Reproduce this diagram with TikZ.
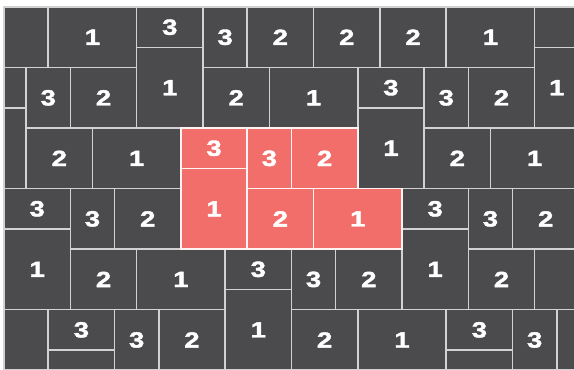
\documentclass[tikz,border=0pt]{standalone}
\usepackage{fontspec}
\usepackage{xcolor}
\usepackage{tikz}
\newfontfamily\tileFont{Liberation Sans}[UprightFont=* Bold,FakeBold=1.8,FakeStretch=1.25]
\definecolor{tlDark}{HTML}{4B4B4E}
\definecolor{tlRed}{HTML}{F26E6B}
\definecolor{tlLine}{HTML}{D2D2D2}
\tikzset{
  % Dark tile, placed by its top left corner
  dtile/.style={rectangle,anchor=north west,
    inner sep=0pt,outer sep=0pt,
    fill=tlDark,draw=tlLine,line width=1.5pt,
    font=\tileFont\fontsize{22}{22}\selectfont,text=white},
  % Red tile (highlighted group)
  rtile/.style={dtile,fill=tlRed,draw=white!92!tlRed},
  % Size in grid cells (width, height)
  cells/.style 2 args={minimum width=#1*22.11pt,minimum height=#2*20.18pt},
}

\begin{document}
\begin{tikzpicture}[x=22.11pt,y=-20.18pt]
  \useasboundingbox (-0.181,-0.347) rectangle (25.78,17.94);

  % rows 0-3
  \node[dtile,cells={2}{3}] (a1) at (0,0) {};
  \node[dtile,cells={4}{3}] (a2) at (2,0) {1};
  \node[dtile,cells={3}{2}] (a3) at (6,0) {3};
  \node[dtile,cells={3}{4}] (a4) at (6,2) {1};
  \node[dtile,cells={2}{3}] (a5) at (9,0) {3};
  \node[dtile,cells={3}{3}] (a6) at (11,0) {2};
  \node[dtile,cells={3}{3}] (a7) at (14,0) {2};
  \node[dtile,cells={3}{3}] (a8) at (17,0) {2};
  \node[dtile,cells={4}{3}] (a9) at (20,0) {1};
  \node[dtile,cells={2}{2}] (a10) at (24,0) {};
  \node[dtile,cells={2}{4}] (a11) at (24,2) {1};

  % rows 3-6
  \node[dtile,cells={1}{2}] (b1) at (0,3) {};
  \node[dtile,cells={1}{4}] (b2) at (0,5) {};
  \node[dtile,cells={2}{3}] (b3) at (1,3) {3};
  \node[dtile,cells={3}{3}] (b4) at (3,3) {2};
  \node[dtile,cells={3}{3}] (b5) at (9,3) {2};
  \node[dtile,cells={4}{3}] (b6) at (12,3) {1};
  \node[dtile,cells={3}{2}] (b7) at (16,3) {3};
  \node[dtile,cells={3}{4}] (b8) at (16,5) {1};
  \node[dtile,cells={2}{3}] (b9) at (19,3) {3};
  \node[dtile,cells={3}{3}] (b10) at (21,3) {2};

  % rows 6-9
  \node[dtile,cells={3}{3}] (c1) at (1,6) {2};
  \node[dtile,cells={4}{3}] (c2) at (4,6) {1};
  \node[dtile,cells={3}{3}] (c3) at (19,6) {2};
  \node[dtile,cells={4}{3}] (c4) at (22,6) {1};

  % rows 9-12
  \node[dtile,cells={3}{2}] (d1) at (0,9) {3};
  \node[dtile,cells={3}{4}] (d2) at (0,11) {1};
  \node[dtile,cells={2}{3}] (d3) at (3,9) {3};
  \node[dtile,cells={3}{3}] (d4) at (5,9) {2};
  \node[dtile,cells={3}{2}] (d5) at (18,9) {3};
  \node[dtile,cells={3}{4}] (d6) at (18,11) {1};
  \node[dtile,cells={2}{3}] (d7) at (21,9) {3};
  \node[dtile,cells={3}{3}] (d8) at (23,9) {2};

  % rows 12-15
  \node[dtile,cells={3}{3}] (e1) at (3,12) {2};
  \node[dtile,cells={4}{3}] (e2) at (6,12) {1};
  \node[dtile,cells={3}{2}] (e3) at (10,12) {3};
  \node[dtile,cells={3}{4}] (e4) at (10,14) {1};
  \node[dtile,cells={2}{3}] (e5) at (13,12) {3};
  \node[dtile,cells={3}{3}] (e6) at (15,12) {2};
  \node[dtile,cells={3}{3}] (e7) at (21,12) {2};
  \node[dtile,cells={2}{3}] (e8) at (24,12) {};

  % rows 15-18
  \node[dtile,cells={2}{3}] (f1) at (0,15) {};
  \node[dtile,cells={3}{2}] (f2) at (2,15) {3};
  \node[dtile,cells={3}{1}] (f3) at (2,17) {};
  \node[dtile,cells={2}{3}] (f4) at (5,15) {3};
  \node[dtile,cells={3}{3}] (f5) at (7,15) {2};
  \node[dtile,cells={3}{3}] (f6) at (13,15) {2};
  \node[dtile,cells={4}{3}] (f7) at (16,15) {1};
  \node[dtile,cells={3}{2}] (f8) at (20,15) {3};
  \node[dtile,cells={3}{1}] (f9) at (20,17) {};
  \node[dtile,cells={2}{3}] (f10) at (23,15) {3};
  \node[dtile,cells={1}{3}] (f11) at (25,15) {};

  % highlighted group
  \node[rtile,cells={3}{2}] (h1) at (8,6) {3};
  \node[rtile,cells={3}{4}] (h2) at (8,8) {1};
  \node[rtile,cells={2}{3}] (h3) at (11,6) {3};
  \node[rtile,cells={3}{3}] (h4) at (13,6) {2};
  \node[rtile,cells={3}{3}] (h5) at (11,9) {2};
  \node[rtile,cells={4}{3}] (h6) at (14,9) {1};
\end{tikzpicture}
\end{document}
